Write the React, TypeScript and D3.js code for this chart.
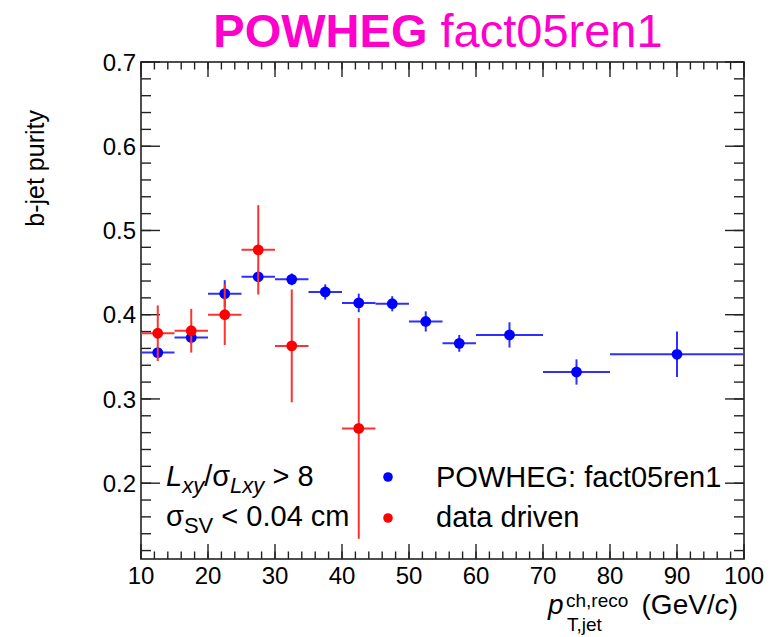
import * as d3 from "d3";
import React from "react";

// POWHEG bins (GeV/c) and purity
const powhegEdges = [10, 15, 20, 25, 30, 35, 40, 45, 50, 55, 60, 70, 80, 100];
const powhegPurity = [0.355, 0.373, 0.425, 0.445, 0.442, 0.427, 0.414, 0.413, 0.392, 0.366, 0.376, 0.332, 0.353];
const powhegErr = [0.006, 0.007, 0.016, 0.006, 0.007, 0.009, 0.011, 0.009, 0.012, 0.010, 0.015, 0.015, 0.027];

// data driven
const dataLow = [10, 15, 20, 25, 30, 40];
const dataHigh = [15, 20, 25, 30, 35, 45];
const dataPurity = [0.378, 0.381, 0.400, 0.477, 0.363, 0.265];
const dataErr = [0.033, 0.026, 0.036, 0.053, 0.067, 0.131];

const xTicks = [10, 20, 30, 40, 50, 60, 70, 80, 90, 100];
const yTicks = [0.2, 0.3, 0.4, 0.5, 0.6, 0.7];

const W = 775;
const H = 637;
const left = 141, right = 744, top = 62, bottom = 559;
const font = "'Liberation Sans', Arial, Helvetica, sans-serif";

export default function App() {
  const x = d3.scaleLinear().domain([10, 100]).range([left, right]);
  const y = d3.scaleLinear().domain([0.11, 0.7]).range([bottom, top]);

  const xMinor = d3.range(10, 100.01, 2);
  const yMinor = d3.range(0.12, 0.7001, 0.02);

  const blue = powhegPurity.map((v, i) => ({
    lo: powhegEdges[i], hi: powhegEdges[i + 1], v, e: powhegErr[i],
  }));
  const red = dataPurity.map((v, i) => ({ lo: dataLow[i], hi: dataHigh[i], v, e: dataErr[i] }));

  const drawPoints = (pts, line, fill, key) =>
    pts.map((p, i) => {
      const cx = x((p.lo + p.hi) / 2);
      return (
        <g key={key + i}>
          <line x1={x(p.lo)} x2={x(p.hi)} y1={y(p.v)} y2={y(p.v)} stroke={line} strokeWidth={2} />
          <line x1={cx} x2={cx} y1={y(p.v + p.e)} y2={y(p.v - p.e)} stroke={line} strokeWidth={2} />
          <circle cx={cx} cy={y(p.v)} r={5.4} fill={fill} />
        </g>
      );
    });

  return (
    <svg width={W} height={H} style={{ position: "absolute", left: 0, top: 0, background: "#fff" }} fontFamily={font}>
      {/* title */}
      <text x={438} y={47} textAnchor="middle" fontSize={47} fill="#ff00cc">
        <tspan fontWeight="bold">POWHEG</tspan> fact05ren1
      </text>

      {/* frame */}
      <rect x={left} y={top} width={right - left} height={bottom - top} fill="none" stroke="#222" strokeWidth={1.6} />

      {/* x ticks bottom / top */}
      {xMinor.map(t => (
        <g key={"xm" + t} stroke="#222" strokeWidth={1.4}>
          <line x1={x(t)} x2={x(t)} y1={bottom} y2={bottom - 7.5} />
          <line x1={x(t)} x2={x(t)} y1={top} y2={top + 7.5} />
        </g>
      ))}
      {xTicks.map(t => (
        <g key={"xM" + t}>
          <line x1={x(t)} x2={x(t)} y1={bottom} y2={bottom - 15} stroke="#222" strokeWidth={1.4} />
          <line x1={x(t)} x2={x(t)} y1={top} y2={top + 15} stroke="#222" strokeWidth={1.4} />
          <text x={x(t)} y={584} textAnchor="middle" fontSize={24} fill="#000">{t}</text>
        </g>
      ))}

      {/* y ticks left / right */}
      {yMinor.map(t => (
        <g key={"ym" + t.toFixed(2)} stroke="#222" strokeWidth={1.4}>
          <line x1={left} x2={left + 10} y1={y(t)} y2={y(t)} />
          <line x1={right} x2={right - 10} y1={y(t)} y2={y(t)} />
        </g>
      ))}
      {yTicks.map(t => (
        <g key={"yM" + t}>
          <line x1={left} x2={left + 19} y1={y(t)} y2={y(t)} stroke="#222" strokeWidth={1.4} />
          <line x1={right} x2={right - 19} y1={y(t)} y2={y(t)} stroke="#222" strokeWidth={1.4} />
          <text x={136} y={y(t)} dy="0.36em" textAnchor="end" fontSize={24} fill="#000">{t.toFixed(1)}</text>
        </g>
      ))}

      {/* axis titles */}
      <text transform="translate(44,110) rotate(-90)" textAnchor="end" fontSize={25} fill="#000">b-jet purity</text>
      <text x={548} y={614} fontSize={28} fontStyle="italic" fill="#000">p</text>
      <text x={566} y={607} fontSize={19} fill="#000">ch,reco</text>
      <text x={567} y={631} fontSize={19} fill="#000">T,jet</text>
      <text x={738} y={614} textAnchor="end" fontSize={28} fill="#000">
        (GeV/<tspan fontStyle="italic">c</tspan>)
      </text>

      {/* data */}
      {drawPoints(blue, "#2f2fff", "#0000ff", "b")}
      {drawPoints(red, "#ff3030", "#ff0000", "r")}

      {/* legend */}
      <text x={166} y={486} fontSize={29} fill="#000">
        <tspan fontStyle="italic">L</tspan>
        <tspan fontStyle="italic" fontSize={22} dy={7}>xy</tspan>
        <tspan dy={-7}>/σ</tspan>
        <tspan fontStyle="italic" fontSize={22} dy={7}>Lxy</tspan>
        <tspan dy={-7}> &gt; 8</tspan>
      </text>
      <text x={166} y={526} fontSize={29} fill="#000">
        σ<tspan fontSize={22} dy={7}>SV</tspan>
        <tspan dy={-7}> &lt; 0.04 cm</tspan>
      </text>
      <circle cx={388} cy={477} r={4.8} fill="#0000ff" />
      <circle cx={388} cy={518} r={4.8} fill="#ff0000" />
      <text x={436} y={487} fontSize={29} fill="#000">POWHEG: fact05ren1</text>
      <text x={436} y={527} fontSize={29} fill="#000">data driven</text>
    </svg>
  );
}
